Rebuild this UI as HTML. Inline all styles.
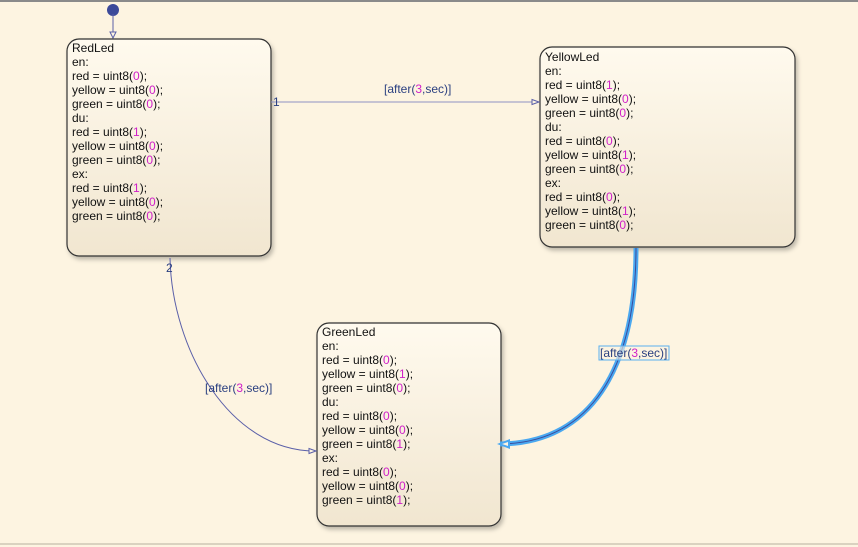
<!DOCTYPE html>
<html><head><meta charset="utf-8"><style>
html,body{margin:0;padding:0;background:#fdf4e1;}
svg{display:block;}
text{font-family:"Liberation Sans",Arial,sans-serif;font-size:12px;fill:#111;}
.n{fill:#d020c8;}
.l{fill:#2a3f80;}
</style></head><body>
<svg width="858" height="547" viewBox="0 0 858 547" xmlns="http://www.w3.org/2000/svg">
<defs>
<linearGradient id="g" x1="0" y1="0" x2="0" y2="1">
<stop offset="0" stop-color="#fffaee"/><stop offset="1" stop-color="#f1e6d0"/>
</linearGradient>
<filter id="s" x="-10%" y="-10%" width="130%" height="130%"><feDropShadow dx="2" dy="3" stdDeviation="2" flood-color="#000" flood-opacity="0.25"/></filter>
</defs>
<rect x="0" y="0" width="858" height="547" fill="#fdf4e1"/>
<line x1="0" y1="1" x2="858" y2="1" stroke="#8a8a8a" stroke-width="2"/>
<line x1="0" y1="544" x2="858" y2="544" stroke="#b8b0a0" stroke-width="1"/>

<circle cx="113" cy="10" r="6" fill="#3c4a9a"/>
<line x1="113" y1="14" x2="113" y2="38" stroke="#5a5fa8" stroke-width="1"/>
<path d="M110,32 L116,32 L113,38 Z" fill="#fdf4e1" stroke="#5a5fa8" stroke-width="1"/>

<rect x="67" y="39" width="204" height="217" rx="12" fill="url(#g)" stroke="#333" stroke-width="1.2" filter="url(#s)"/>
<rect x="540" y="47" width="255" height="200" rx="12" fill="url(#g)" stroke="#333" stroke-width="1.2" filter="url(#s)"/>
<rect x="317" y="323" width="184" height="203" rx="12" fill="url(#g)" stroke="#333" stroke-width="1.2" filter="url(#s)"/>

<line x1="271" y1="102" x2="538" y2="102" stroke="#8e92c4" stroke-width="1"/>
<path d="M532,99.5 L539,102 L532,104.5 Z" fill="#fdf4e1" stroke="#5a5fa8" stroke-width="1"/>
<text x="273" y="106" class="l">1</text>
<text x="384" y="93" class="l">[after(<tspan class="n">3</tspan>,sec)]</text>

<path d="M170,258 C172,350 230,451 315,451" fill="none" stroke="#5a5fa8" stroke-width="1"/>
<path d="M309,448.5 L316,451 L309,453.5 Z" fill="#fdf4e1" stroke="#5a5fa8" stroke-width="1"/>
<text x="166" y="272" class="l">2</text>
<text x="205" y="392" class="l">[after(<tspan class="n">3</tspan>,sec)]</text>

<path d="M636,248 C636,370 590,443 500,444" fill="none" stroke="#4aa8f0" stroke-width="5"/>
<path d="M636,248 C636,370 590,443 500,444" fill="none" stroke="#3c4a9a" stroke-width="1"/>
<path d="M497,444 L510,439 L510,449 Z" fill="#4aa8f0"/>
<path d="M502,444 L508,442 L508,446 Z" fill="#fdf4e1"/>
<rect x="599" y="346" width="70" height="14" fill="#fdf4e1" fill-opacity="0.6" stroke="#5ab0f0" stroke-width="1"/>
<text x="600" y="357" class="l">[after(<tspan class="n">3</tspan>,sec)]</text>

<text x="72" y="52">RedLed</text>
<text x="72" y="66">en:</text>
<text x="72" y="80">red = uint8(<tspan class="n">0</tspan>);</text>
<text x="72" y="94">yellow = uint8(<tspan class="n">0</tspan>);</text>
<text x="72" y="108">green = uint8(<tspan class="n">0</tspan>);</text>
<text x="72" y="122">du:</text>
<text x="72" y="136">red = uint8(<tspan class="n">1</tspan>);</text>
<text x="72" y="150">yellow = uint8(<tspan class="n">0</tspan>);</text>
<text x="72" y="164">green = uint8(<tspan class="n">0</tspan>);</text>
<text x="72" y="178">ex:</text>
<text x="72" y="192">red = uint8(<tspan class="n">1</tspan>);</text>
<text x="72" y="206">yellow = uint8(<tspan class="n">0</tspan>);</text>
<text x="72" y="220">green = uint8(<tspan class="n">0</tspan>);</text>

<text x="545" y="61">YellowLed</text>
<text x="545" y="75">en:</text>
<text x="545" y="89">red = uint8(<tspan class="n">1</tspan>);</text>
<text x="545" y="103">yellow = uint8(<tspan class="n">0</tspan>);</text>
<text x="545" y="117">green = uint8(<tspan class="n">0</tspan>);</text>
<text x="545" y="131">du:</text>
<text x="545" y="145">red = uint8(<tspan class="n">0</tspan>);</text>
<text x="545" y="159">yellow = uint8(<tspan class="n">1</tspan>);</text>
<text x="545" y="173">green = uint8(<tspan class="n">0</tspan>);</text>
<text x="545" y="187">ex:</text>
<text x="545" y="201">red = uint8(<tspan class="n">0</tspan>);</text>
<text x="545" y="215">yellow = uint8(<tspan class="n">1</tspan>);</text>
<text x="545" y="229">green = uint8(<tspan class="n">0</tspan>);</text>

<text x="322" y="336">GreenLed</text>
<text x="322" y="350">en:</text>
<text x="322" y="364">red = uint8(<tspan class="n">0</tspan>);</text>
<text x="322" y="378">yellow = uint8(<tspan class="n">1</tspan>);</text>
<text x="322" y="392">green = uint8(<tspan class="n">0</tspan>);</text>
<text x="322" y="406">du:</text>
<text x="322" y="420">red = uint8(<tspan class="n">0</tspan>);</text>
<text x="322" y="434">yellow = uint8(<tspan class="n">0</tspan>);</text>
<text x="322" y="448">green = uint8(<tspan class="n">1</tspan>);</text>
<text x="322" y="462">ex:</text>
<text x="322" y="476">red = uint8(<tspan class="n">0</tspan>);</text>
<text x="322" y="490">yellow = uint8(<tspan class="n">0</tspan>);</text>
<text x="322" y="504">green = uint8(<tspan class="n">1</tspan>);</text>
</svg>
</body></html>
